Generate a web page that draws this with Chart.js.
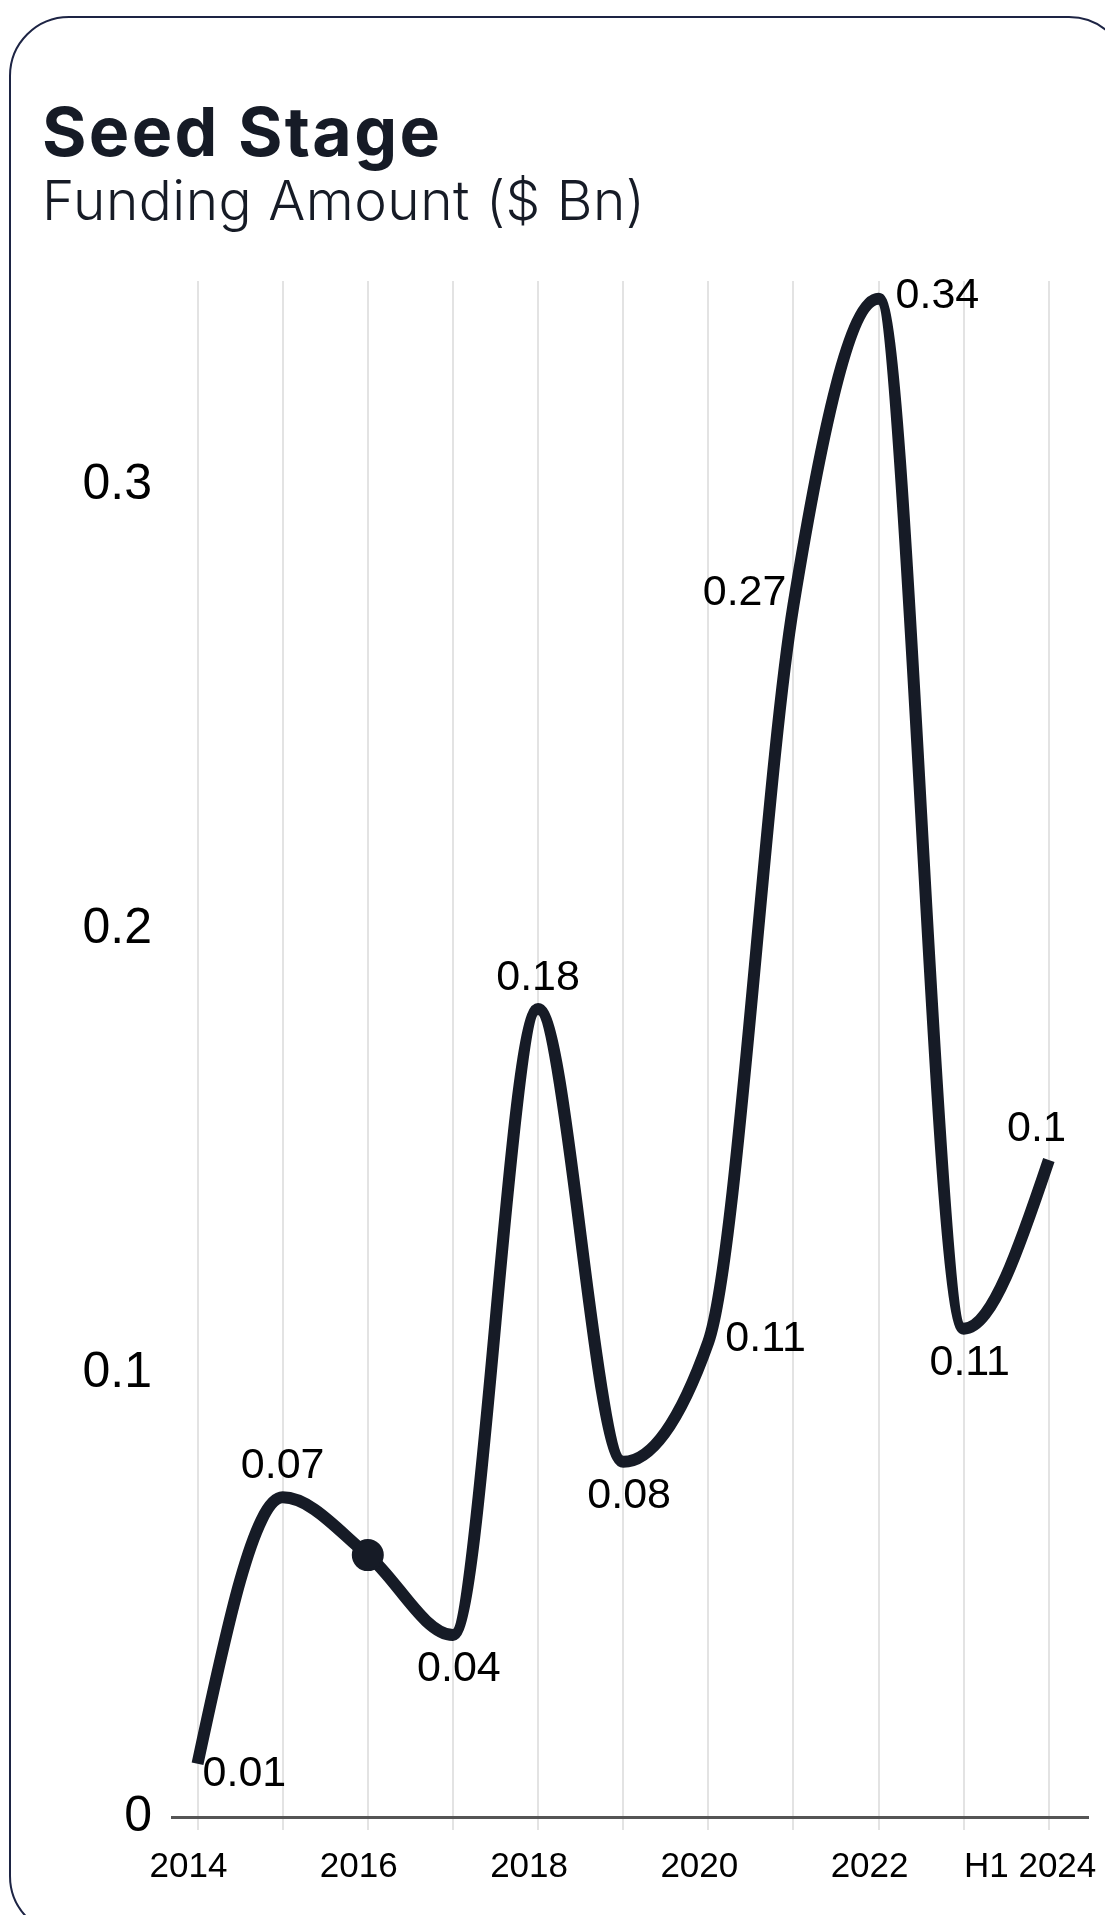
<!DOCTYPE html>
<html>
<head>
<meta charset="utf-8">
<script src="https://cdn.jsdelivr.net/npm/chart.js@4.4.1/dist/chart.umd.min.js"></script>
<style>
  html, body { margin: 0; padding: 0; background: #fff; }
  body { width: 1105px; height: 1915px; position: relative; overflow: hidden; }
  .card {
    position: absolute; left: 9px; top: 16px; width: 1120px; height: 1920px;
    border: 2.5px solid #1d2444; border-radius: 60px; box-sizing: border-box;
  }
  .title {
    position: absolute; left: 42px; top: 97px; margin: 0;
    font: 700 68px/1 Inter, "Noto Sans", sans-serif; color: #161b26; letter-spacing: 2.3px;
  }
  .subtitle {
    position: absolute; left: 42px; top: 173px; margin: 0;
    font: 300 55px/1 Inter, "Noto Sans", sans-serif; color: #161b26; letter-spacing: 0.5px;
  }
  #chart { position: absolute; left: 0; top: 0; }
</style>
</head>
<body>
<div class="card"></div>
<h1 class="title">Seed Stage</h1>
<h2 class="subtitle">Funding Amount ($ Bn)</h2>
<canvas id="chart" width="1105" height="1915"></canvas>
<script>
// data
const categories = ['2014', '2015', '2016', '2017', '2018', '2019', '2020', '2021', '2022', '2023', 'H1 2024'];
const funding = [0.012, 0.072, 0.059, 0.041, 0.182, 0.080, 0.107, 0.273, 0.342, 0.110, 0.148];
const yTicks = [0, 0.1, 0.2, 0.3];

// where each value label sits relative to its point ('none' = no label)
const labelPlace = ['rightBelow', 'above', 'none', 'below', 'above', 'below', 'right', 'left', 'right', 'below', 'above'];
const highlightIndex = 2;

const ink = '#161b26';
const tickFont = 'Arial, "Liberation Sans", sans-serif';

// the source curve is a d3-style monotoneX; recompute the bezier handles that way
const monotoneX = {
  id: 'monotoneX',
  beforeDatasetDraw(chart, args) {
    const meta = args.meta;
    const line = meta.dataset;
    line.updateControlPoints(chart.chartArea, meta.controller._indexAxis || 'x');
    const pts = meta.data;
    const n = pts.length;
    const sgn = v => (v < 0 ? -1 : 1);
    const s = [];
    for (let i = 0; i < n - 1; i++) {
      s.push((pts[i + 1].y - pts[i].y) / (pts[i + 1].x - pts[i].x));
    }
    const t = new Array(n).fill(0);
    for (let i = 1; i < n - 1; i++) {
      const h0 = pts[i].x - pts[i - 1].x, h1 = pts[i + 1].x - pts[i].x;
      const p = (s[i - 1] * h1 + s[i] * h0) / (h0 + h1);
      t[i] = (sgn(s[i - 1]) + sgn(s[i])) * Math.min(Math.abs(s[i - 1]), Math.abs(s[i]), 0.5 * Math.abs(p)) || 0;
    }
    t[0] = (3 * s[0] - t[1]) / 2;
    t[n - 1] = (3 * s[n - 2] - t[n - 2]) / 2;
    for (let i = 0; i < n; i++) {
      const pt = pts[i];
      if (i > 0) {
        const dx = (pt.x - pts[i - 1].x) / 3;
        pt.cp1x = pt.x - dx; pt.cp1y = pt.y - dx * t[i];
      }
      if (i < n - 1) {
        const dx = (pts[i + 1].x - pt.x) / 3;
        pt.cp2x = pt.x + dx; pt.cp2y = pt.y + dx * t[i];
      }
    }
  }
};

const valueLabels = {
  id: 'valueLabels',
  afterDatasetsDraw(chart) {
    const ctx = chart.ctx;
    const pts = chart.getDatasetMeta(0).data;
    const area = chart.chartArea;
    ctx.save();
    // the source cuts off the last label near the right edge
    ctx.beginPath();
    ctx.rect(0, 0, area.right - 24, chart.height);
    ctx.clip();
    ctx.font = '43px ' + tickFont;
    ctx.fillStyle = '#000';
    ctx.textBaseline = 'middle';
    pts.forEach((p, i) => {
      const place = labelPlace[i];
      if (place === 'none') return;
      const txt = funding[i].toFixed(2);
      let x = p.x, y = p.y;
      if (place === 'above') { ctx.textAlign = 'center'; y -= 31; }
      else if (place === 'below') { ctx.textAlign = 'center'; x += 6; y += 34; }
      else if (place === 'right') { ctx.textAlign = 'left'; x += 17; y -= 3; }
      else if (place === 'left') { ctx.textAlign = 'right'; x -= 7; y -= 12; }
      else if (place === 'rightBelow') { ctx.textAlign = 'left'; x += 5; y += 10; }
      ctx.fillText(txt, x, y);
    });
    ctx.restore();
  }
};

new Chart(document.getElementById('chart'), {
  type: 'line',
  data: {
    datasets: [{
      data: funding.map((v, i) => ({ x: i, y: v })),
      borderColor: ink,
      borderWidth: 12,
      borderCapStyle: 'butt',
      cubicInterpolationMode: 'monotone',
      fill: false,
      pointRadius: ctx => ctx.dataIndex === highlightIndex ? 15 : 0,
      pointHoverRadius: 0,
      pointBackgroundColor: ink,
      pointBorderColor: ink,
      pointBorderWidth: 2
    }]
  },
  options: {
    responsive: false,
    animation: false,
    devicePixelRatio: 1,
    layout: { padding: { top: 281, right: 17, left: 0, bottom: 0 } },
    plugins: { legend: { display: false }, tooltip: { enabled: false } },
    scales: {
      x: {
        type: 'linear',
        min: -0.3,
        max: 10.46,
        afterBuildTicks: scale => { scale.ticks = categories.map((c, i) => ({ value: i })); },
        afterFit: scale => {
          scale.height = 98;
          scale.paddingLeft = 0;
          scale.paddingRight = 0;
        },
        grid: { color: '#e3e3e3', lineWidth: 2, tickLength: 13, drawTicks: true },
        border: { color: '#555', width: 3 },
        ticks: {
          autoSkip: false,
          maxRotation: 0,
          padding: 16,
          labelOffset: -9,
          color: '#000',
          font: { family: tickFont, size: 35 },
          callback: v => {
            if (v % 2 !== 0) return '';
            // last label is pushed left in the source so it stays inside the card
            return v === categories.length - 1 ? categories[v] + '\u00a0\u00a0' : categories[v];
          }
        }
      },
      y: {
        min: 0,
        max: 0.346,
        afterBuildTicks: scale => { scale.ticks = yTicks.map(v => ({ value: v })); },
        afterFit: scale => { scale.width = 172; },
        grid: { display: false, drawTicks: false },
        border: { display: false },
        ticks: {
          padding: 20,
          color: '#000',
          font: { family: tickFont, size: 50 },
          callback: v => String(+v.toFixed(1))
        }
      }
    }
  },
  plugins: [monotoneX, valueLabels]
});
</script>
</body>
</html>
